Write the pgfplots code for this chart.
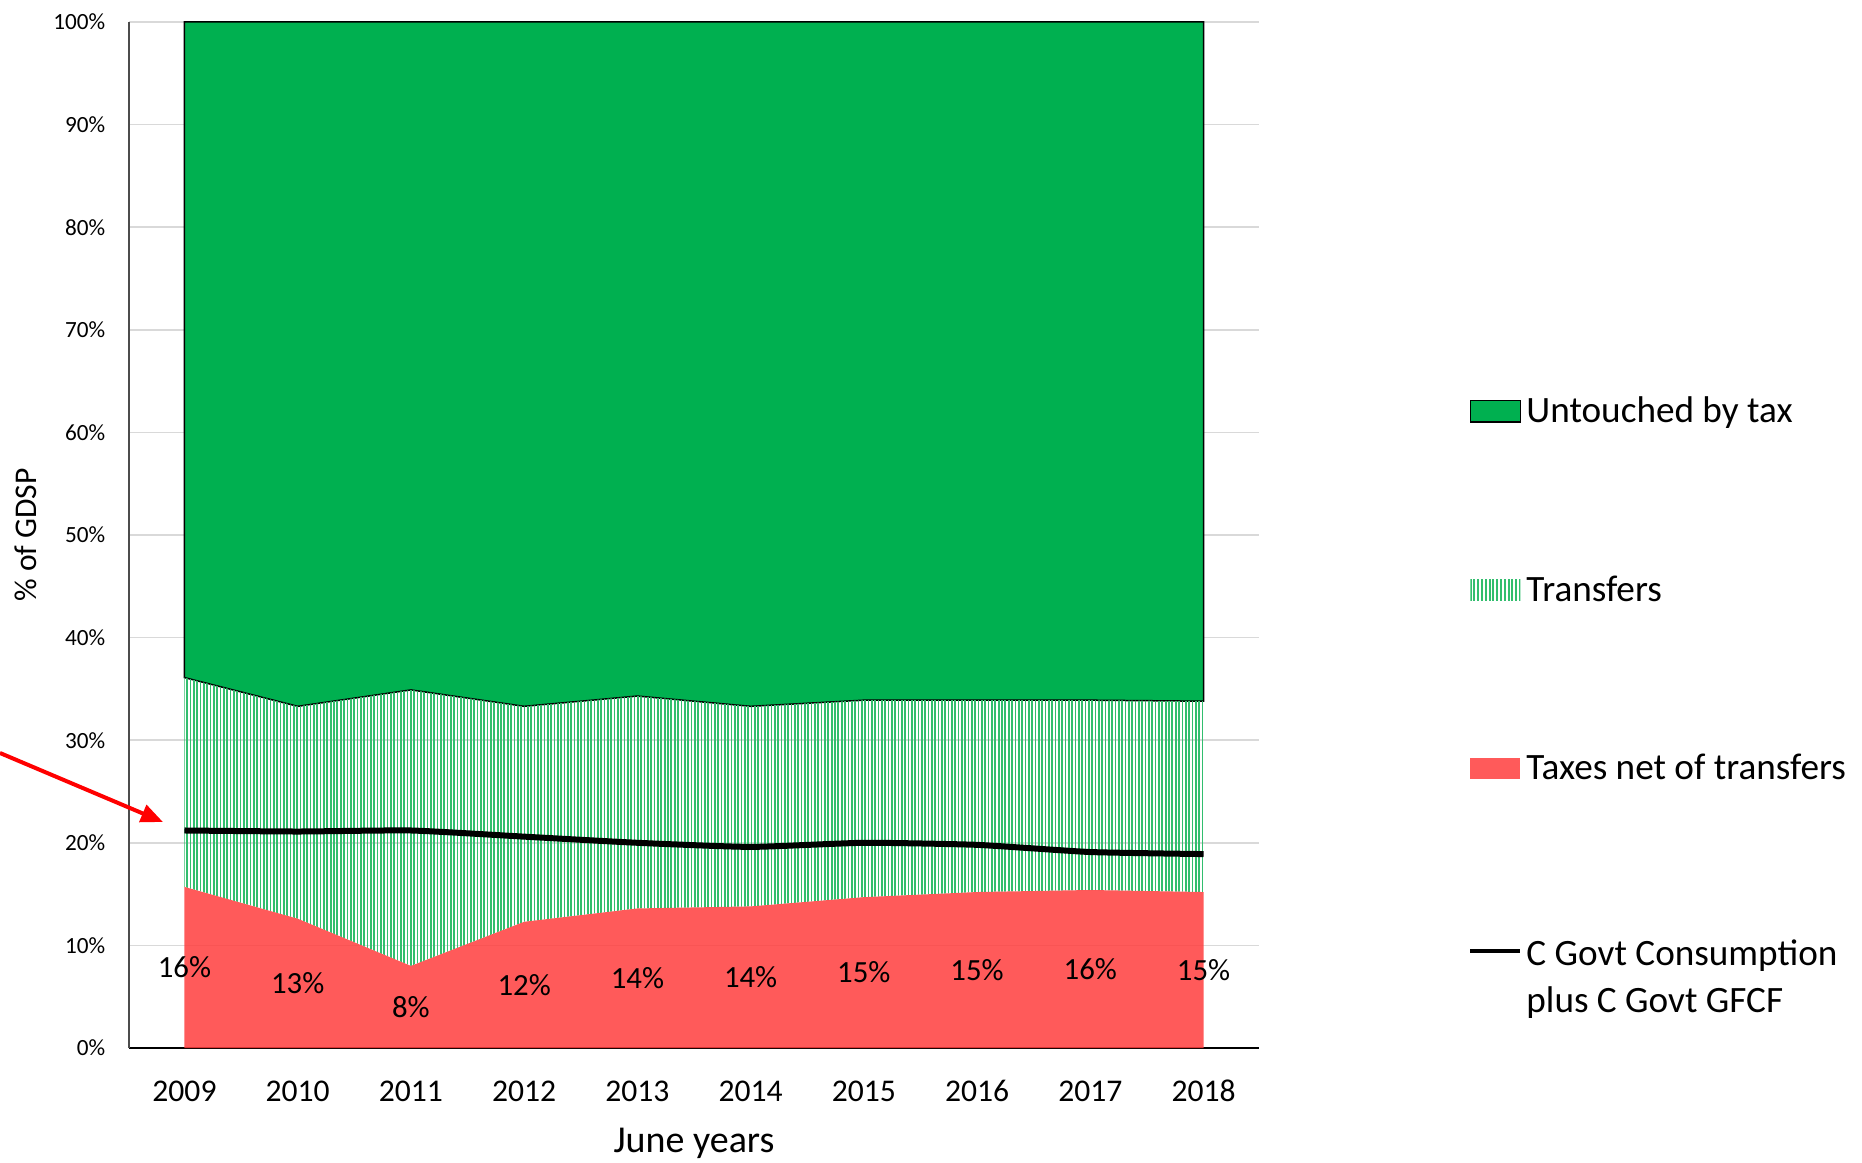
\documentclass[border=0pt]{standalone}
\usepackage{pgfplots}
\pgfplotsset{compat=1.18}
\usepackage{pgfplotstable}
\usepgfplotslibrary{fillbetween}
\usetikzlibrary{patterns.meta, arrows.meta}
\usepackage{fontspec}
\setmainfont{Carlito}
\definecolor{untouched}{RGB}{0,176,80}
\definecolor{hatch}{RGB}{50,190,110}
\definecolor{taxred}{RGB}{255,61,61}
\definecolor{gridgray}{RGB}{217,217,217}

\pgfplotstableread{
x red total line lab
0 15.7 36.1 21.2 16
1 12.6 33.3 21.1 13
2 8.0 34.9 21.2 8
3 12.3 33.3 20.6 12
4 13.6 34.3 20.0 14
5 13.8 33.3 19.6 14
6 14.7 33.9 20.0 15
7 15.2 33.9 19.8 15
8 15.4 33.9 19.1 16
9 15.2 33.8 18.9 15
}\data

\begin{document}
\begin{tikzpicture}
\begin{axis}[
  scale only axis, width=565pt, height=513pt,
  at={(0,0)}, anchor=south west,
  xmin=-0.49, xmax=9.49, ymin=0, ymax=100,
  axis lines*=left,
  x axis line style={black, line width=0.8pt},
  y axis line style={black!70, line width=0.8pt},
  xtick={0,1,2,3,4,5,6,7,8,9},
  xticklabels={2009,2010,2011,2012,2013,2014,2015,2016,2017,2018},
  ytick={0,10,20,30,40,50,60,70,80,90,100},
  yticklabels={0\%,10\%,20\%,30\%,40\%,50\%,60\%,70\%,80\%,90\%,100\%},
  major tick length=0pt,
  ymajorgrids, grid style={gridgray, line width=0.8pt},
  xticklabel style={font=\fontsize{15.8}{19}\selectfont, anchor=center, yshift=-21.5pt},
  yticklabel style={font=\fontsize{11.6}{14}\selectfont, anchor=east, xshift=-8.4pt},
  xlabel={June years},
  xlabel style={at={(axis description cs:0.5,-0.0932)}, anchor=center, font=\fontsize{19}{23}\selectfont},
  ylabel={\% of GDSP},
  ylabel style={at={(axis description cs:-0.0912,0.5)}, anchor=center, rotate=0, font=\fontsize{15.8}{19}\selectfont},
  legend style={draw=none, fill=none, at={(axis description cs:1.185,0.639)}, anchor=north west,
    font=\fontsize{18.6}{23.5}\selectfont, row sep=71pt, inner sep=0pt, cells={anchor=west}},
  legend cell align=left,
]
\addplot[draw=none, name path=top, forget plot] coordinates {(0,100) (9,100)};
\addplot[draw=none, name path=tot, forget plot] table[x=x,y=total]{\data};
\addplot[draw=none, name path=redp, forget plot] table[x=x,y=red]{\data};

\addplot[fill=untouched, draw=black, line width=0.75pt,
  legend image code/.code={\draw[fill=untouched, draw=black, line width=0.75pt] (0pt,-5.35pt) rectangle (25pt,5.35pt);}]
  fill between[of=top and tot];
\addlegendentry{Untouched by tax}

\addplot[pattern={Lines[angle=90,distance=1.67pt,line width=0.85pt]}, pattern color=hatch, draw=none,
  legend image code/.code={\fill[pattern={Lines[angle=90,distance=1.9pt,line width=0.95pt]}, pattern color=hatch] (0pt,-5.35pt) rectangle (25pt,5.35pt);}]
  fill between[of=tot and redp];
\addlegendentry{Transfers}

\addplot[fill=taxred, fill opacity=0.85, draw=none,
  legend image code/.code={\fill[taxred, fill opacity=0.85] (0pt,-5.35pt) rectangle (25pt,5.35pt);}]
  table[x=x,y=red]{\data} \closedcycle;
\addlegendentry{Taxes net of transfers}

\addplot[black, line width=3pt, smooth, tension=0.3,
  legend image code/.code={\draw[black, line width=2pt] (0pt,0pt) -- (25pt,0pt);}]
  table[x=x,y=line]{\data};
\addlegendentry{\begin{tabular}[t]{@{}l@{}}C Govt Consumption\\plus C Govt GFCF\end{tabular}}

\addplot[draw=none, mark=none, forget plot, point meta=explicit symbolic,
  nodes near coords={\pgfplotspointmeta\%},
  nodes near coords style={font=\fontsize{15.4}{18}\selectfont, anchor=center, text=black, text opacity=1}]
  table[x=x, y expr=\thisrow{red}/2, meta=lab]{\data};
\end{axis}
\draw[red, line width=2pt, -{Triangle[length=11pt,width=9pt]}] (-64.5pt,147.5pt) -- (17pt,113pt);
\pgfresetboundingbox
\path[use as bounding box] (-64.5pt,-57pt) rectangle (866.5pt,524pt);
\end{tikzpicture}
\end{document}
